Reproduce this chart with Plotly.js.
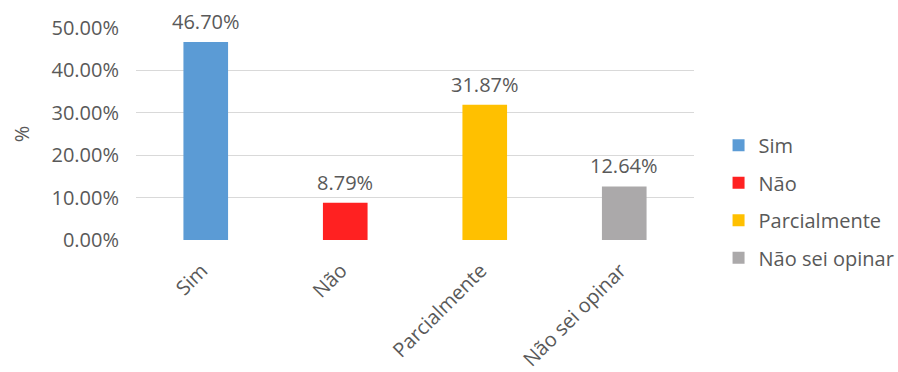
<!DOCTYPE html>
<html>
<head>
<meta charset="utf-8">
<script src="https://cdn.plot.ly/plotly-3.0.1.min.js"></script>
<style>html,body{margin:0;padding:0;background:#fff;}#chart{width:898px;height:372px;}</style>
</head>
<body>
<div id="chart"></div>
<script>
const categories = ["Sim", "Não", "Parcialmente", "Não sei opinar"];
const values = [0.4670, 0.0879, 0.3187, 0.1264];
const valueLabels = ["46.70%", "8.79%", "31.87%", "12.64%"];
const colors = ["#5B9BD5", "#FF2121", "#FFC000", "#ABA9AA"];

const FONT = "Open Sans, Lato, sans-serif";
const TXT = "#595959";
const FS = 20;

const traces = categories.map((c, i) => ({
  type: "bar",
  x: [c],
  y: [values[i]],
  name: c,
  legendgroup: "g" + i,
  marker: {color: colors[i]},
  width: 0.32,
  hoverinfo: "skip"
}));

const annotations = categories.map((c, i) => ({
  x: c, y: values[i], xref: "x", yref: "y",
  text: valueLabels[i], showarrow: false,
  yanchor: "bottom", yshift: 5,
  font: {family: FONT, size: FS, color: TXT}
}));

const layout = {
  width: 898, height: 372,
  margin: {l: 136, r: 204, t: 28, b: 132, autoexpand: false},
  paper_bgcolor: "#fff", plot_bgcolor: "#fff",
  barmode: "overlay",
  showlegend: true,
  legend: {
    x: 1.044, xanchor: "left", y: 0.18, yanchor: "middle",
    font: {family: FONT, size: FS, color: TXT},
    traceorder: "grouped", tracegroupgap: 8.5,
    bgcolor: "rgba(0,0,0,0)"
  },
  xaxis: {
    type: "category",
    tickangle: -45,
    tickfont: {family: FONT, size: FS, color: TXT},
    showgrid: false, showline: false, zeroline: false,
    ticks: "", ticklabelstandoff: 14, ticklabelshift: -4
  },
  yaxis: {
    range: [0, 0.5],
    dtick: 0.1,
    tickformat: ".2%",
    tickfont: {family: FONT, size: FS, color: TXT},
    gridcolor: "#D9D9D9", gridwidth: 1,
    zeroline: false, showline: false,
    ticks: "", ticklabelstandoff: 16,
    title: {text: "%", font: {family: FONT, size: FS, color: TXT}, standoff: 16}
  },
  annotations: annotations
};

Plotly.newPlot("chart", traces, layout, {displayModeBar: false, staticPlot: true});
</script>
</body>
</html>
